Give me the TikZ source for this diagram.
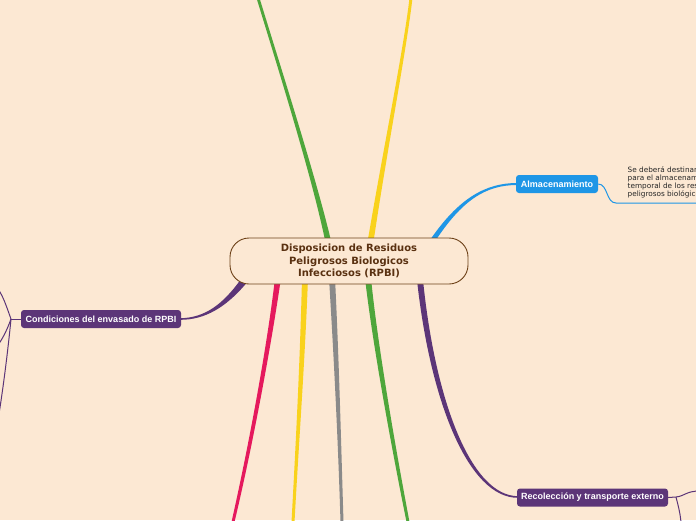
\documentclass[tikz,border=0pt]{standalone}
\usepackage{fontspec}
\setmainfont{DejaVu Sans}
\newfontfamily\lib{Liberation Sans}
\definecolor{bg}{HTML}{FCE8D3}
\definecolor{cbrown}{HTML}{6E4219}
\definecolor{ctext}{HTML}{5A3111}
\definecolor{cgreen}{HTML}{4EA63B}
\definecolor{cyellow}{HTML}{F9D21C}
\definecolor{cblue}{HTML}{1E96E6}
\definecolor{cpurple}{HTML}{5C3578}
\definecolor{cpink}{HTML}{E5195D}
\definecolor{cgrey}{HTML}{8A8A8A}
\tikzset{
  topic/.style={rounded corners=3pt, text=white, font=\lib\bfseries\fontsize{9}{10}\selectfont, inner sep=0pt, minimum height=18pt, align=center},
  thin/.style={line width=1pt},
}
\begin{document}
\begin{tikzpicture}[x=1pt,y=-1pt]
\fill[bg] (0,0) rectangle (696,520);
\useasboundingbox (0,0) rectangle (696,520);
\begin{scope}
\clip (0,0) rectangle (696,520);
% tapered main branches
\fill[cgreen] (326,245) .. controls (313,180) and (278.5,70) .. (256.5,-2) -- (259.5,-2) .. controls (281.5,70) and (317,180) .. (332,245) -- cycle;
\fill[cyellow] (367,245) .. controls (383,150) and (403.5,50) .. (409.5,-2) -- (412.5,-2) .. controls (406.5,50) and (387,150) .. (373,245) -- cycle;
\fill[cpink] (275,278) .. controls (268,340) and (250,440) .. (231.5,522) -- (234.5,522) .. controls (254,440) and (272,340) .. (281,278) -- cycle;
\fill[cyellow] (302,278) .. controls (300,360) and (296,440) .. (291.5,522) -- (294.5,522) .. controls (299,440) and (305,360) .. (308,278) -- cycle;
\fill[cgrey] (329,278) .. controls (334,360) and (338,440) .. (340.5,522) -- (343.5,522) .. controls (341,440) and (339,360) .. (335,278) -- cycle;
\fill[cgreen] (365,278) .. controls (372,340) and (390,440) .. (406.5,522) -- (409.5,522) .. controls (394,440) and (377,340) .. (371,278) -- cycle;
% blue to Almacenamiento
\fill[cblue] (435,241.4) .. controls (461.5,201) and (485,185) .. (517,185) -- (517,183) .. controls (485,183) and (458.5,199) .. (431,238.6) -- cycle;
% purple to Condiciones
\fill[cpurple] (245.5,284.2) .. controls (226,307) and (205,320) .. (180,319.8) -- (180,318.2) .. controls (205,318) and (223,304) .. (240.5,279.8) -- cycle;
% purple to Recoleccion
\fill[cpurple] (417,280) .. controls (430,400) and (468,498) .. (518,497.8) -- (518,496.2) .. controls (471,496) and (435,400) .. (423,280) -- cycle;
\end{scope}
% central node
\node[draw=cbrown, line width=0.9pt, fill=bg, rounded corners=19pt, minimum width=238pt, minimum height=46pt, inner sep=0pt, align=center, text=ctext, font=\bfseries\fontsize{10}{12.3}\selectfont] (center) at (349,261) {Disposicion de Residuos\\Peligrosos Biologicos\\ Infecciosos (RPBI)};
% topics
\node[topic, fill=cblue, minimum width=82pt] (alm) at (557,184) {Almacenamiento};
\node[topic, fill=cpurple, minimum width=160pt] (cond) at (101,319) {Condiciones del envasado de RPBI};
\node[topic, fill=cpurple, minimum width=151pt] (rec) at (592.5,497.5) {Recolección y transporte externo};
% note
\begin{scope}
\clip (0,0) rectangle (696,520);
\node[anchor=north west, inner sep=0pt, align=left, text=black!85, font=\fontsize{7.3}{8.3}\selectfont] (note) at (627.5,166) {Se deberá destinar un área\\para el almacenamiento\\temporal de los residuos\\peligrosos biológico-infecciosos};
\coordinate (noteline) at (616,203);
\draw[cblue, thin] (alm.east) .. controls (608,184) and (606,203) .. (noteline) -- (700,203);
% left sub-branches
\coordinate (cj) at (11,319);
\coordinate (l1) at (-2,289);
\coordinate (l2) at (-2,345);
\coordinate (l3) at (-2,420);
\draw[cpurple, thin] (cond.west) -- (cj);
\draw[cpurple, thin] (cj) .. controls (6,305) and (3,296) .. (l1);
\draw[cpurple, thin] (cj) .. controls (7,330) and (3,338) .. (l2);
\draw[cpurple, thin] (cj) .. controls (8,350) and (3,390) .. (l3);
% right sub-branches
\coordinate (rj) at (676,497);
\coordinate (r1) at (700,491);
\coordinate (r2) at (681,522);
\draw[cpurple, thin] (rec.east) -- (rj);
\draw[cpurple, thin] (rj) .. controls (685,496) and (686,491) .. (r1);
\draw[cpurple, thin] (rj) .. controls (678,505) and (680,512) .. (r2);
\end{scope}
\end{tikzpicture}
\end{document}
